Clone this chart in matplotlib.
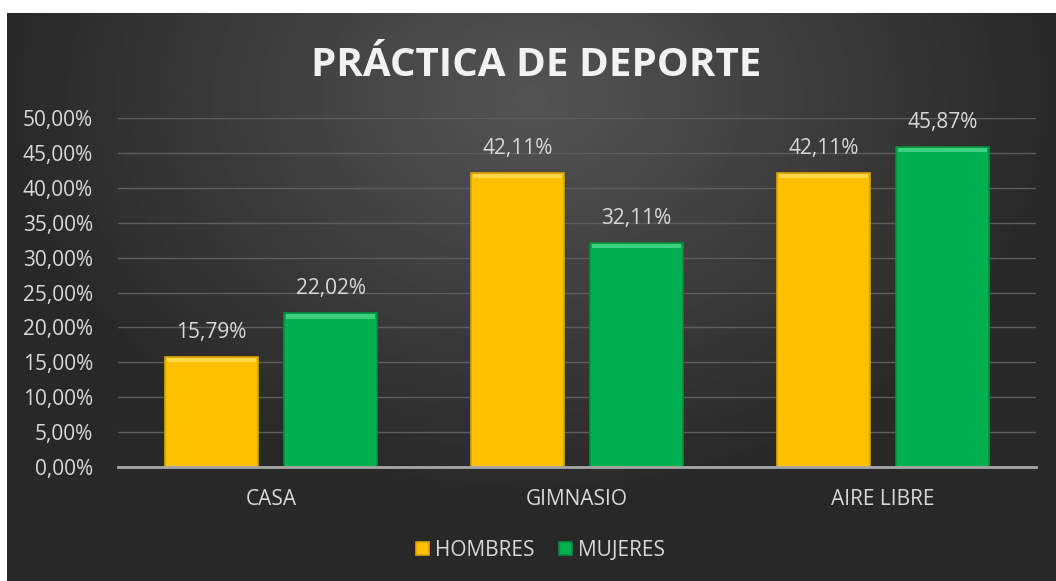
import numpy as np
import matplotlib
matplotlib.use('Agg')
import matplotlib.pyplot as plt
from matplotlib.ticker import FuncFormatter

# data
categories = ['CASA', 'GIMNASIO', 'AIRE LIBRE']
hombres = [15.79, 42.11, 42.11]
mujeres = [22.02, 32.11, 45.87]

plt.rcParams['font.family'] = ['Open Sans', 'DejaVu Sans']

fig = plt.figure(figsize=(10.56, 5.81), dpi=100)
fig.patch.set_facecolor('white')

# dark gradient background panel
bg = fig.add_axes([7 / 1056, 0, 1 - 7 / 1056, 1 - 13 / 581])
yy, xx = np.mgrid[-1:1:300j, -1:1:600j]
r = np.sqrt((xx / 1.0) ** 2 + ((yy + 0.7) / 1.4) ** 2)
shade = np.clip(0.33 - 0.17 * r, 0.16, 0.33)
bg.imshow(shade, cmap='gray', vmin=0, vmax=1, aspect='auto', extent=[0, 1, 0, 1])
bg.axis('off')

ax = fig.add_axes([118 / 1056, (581 - 467) / 581, (1036 - 118) / 1056, (467 - 118) / 581])
ax.set_facecolor('none')

x = np.arange(len(categories))
w = 0.305
off = 0.195
b1 = ax.bar(x - off, hombres, w, color='#FFC000', edgecolor='#D9A300', linewidth=1.2,
            label='HOMBRES', zorder=3)
b2 = ax.bar(x + off, mujeres, w, color='#00B050', edgecolor='#009040', linewidth=1.2,
            label='MUJERES', zorder=3)
# bevel highlight along top edge
ax.bar(x - off, 0.6, w * 0.96, bottom=np.array(hombres) - 0.75, color='#FFD84D',
       linewidth=0, zorder=4)
ax.bar(x + off, 0.6, w * 0.96, bottom=np.array(mujeres) - 0.75, color='#3FD07F',
       linewidth=0, zorder=4)

fmt = lambda v: f'{v:.2f}'.replace('.', ',') + '%'
for bars, vals in ((b1, hombres), (b2, mujeres)):
    ax.bar_label(bars, labels=[fmt(v) for v in vals], padding=10, color='#D9D9D9', fontsize=15)

ax.set_xlim(-0.5, 2.5)
ax.set_ylim(0, 50)
ax.set_yticks(np.arange(0, 51, 5))
ax.yaxis.set_major_formatter(FuncFormatter(lambda v, p: fmt(v)))
ax.set_xticks(x)
ax.set_xticklabels(categories)
ax.tick_params(colors='#D9D9D9', labelsize=15, length=0)
ax.tick_params(axis='x', pad=16)
ax.tick_params(axis='y', pad=18)
ax.grid(axis='y', color='#5E5E5E', linewidth=1, zorder=0)
for s in ['top', 'right', 'left']:
    ax.spines[s].set_visible(False)
ax.spines['bottom'].set_color('#A6A6A6')
ax.spines['bottom'].set_linewidth(2)
ax.spines['bottom'].set_zorder(5)

fig.text(0.508, 1 - 66 / 581, 'PRÁCTICA DE DEPORTE', ha='center', va='center',
         fontsize=29, fontweight='bold', color='#F2F2F2')

leg = fig.legend(loc='center', bbox_to_anchor=(0.512, 1 - 550 / 581), ncol=2, frameon=False,
                 fontsize=15, handlelength=0.6, handleheight=0.6, handletextpad=0.3,
                 columnspacing=1.2)
for t in leg.get_texts():
    t.set_color('#D9D9D9')

fig.savefig('out.png', dpi=100, facecolor=fig.get_facecolor())
